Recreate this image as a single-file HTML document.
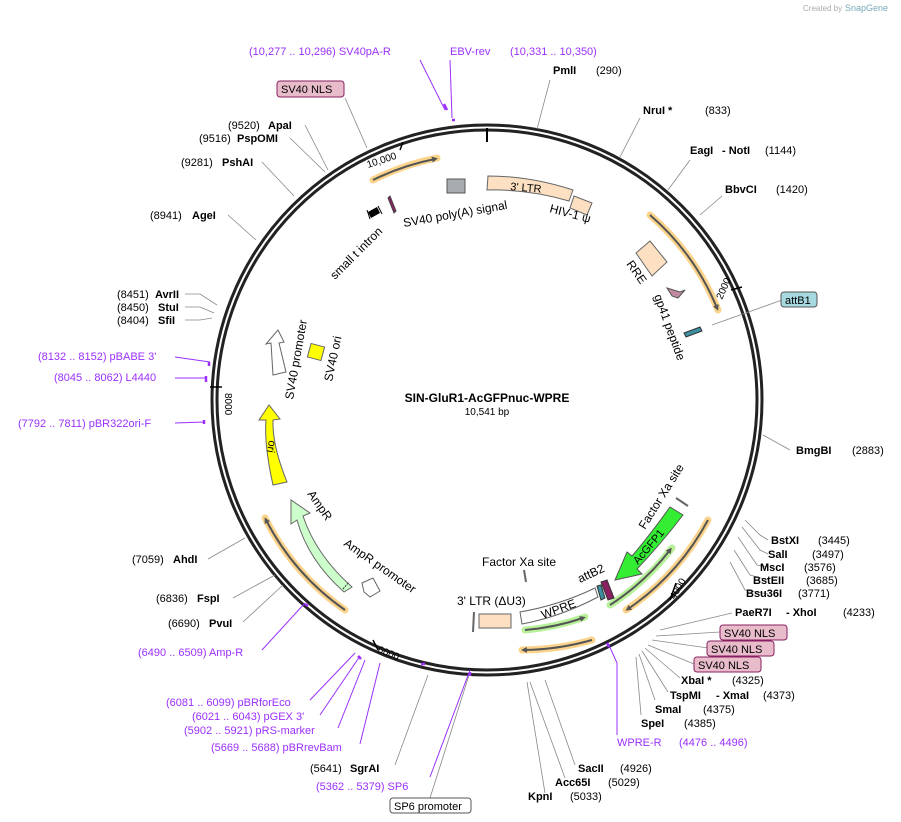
<!DOCTYPE html>
<html><head><meta charset="utf-8"><style>
body{margin:0;background:#fff}
svg{display:block;font-family:"Liberation Sans","DejaVu Sans",sans-serif}
.b{font-weight:bold;font-size:11px;fill:#000}
.n{font-size:11px;fill:#000}
.p{font-size:11px;fill:#9b30ff}
.l{stroke:#888;stroke-width:0.8;fill:none}
.lp{stroke:#9b30ff;stroke-width:1;fill:none}
.f{font-size:12px;fill:#000}
</style></head><body>
<svg width="901" height="822" viewBox="0 0 901 822">
<defs>
<marker id="ah" markerWidth="6" markerHeight="6" refX="3" refY="3" orient="auto" markerUnits="userSpaceOnUse"><path d="M0,0 L6,3 L0,6 z" fill="#555"/></marker>
</defs>
<text x="803" y="11" font-size="8" fill="#aaa">Created by</text><text x="845" y="11" font-size="9" fill="#7ab">SnapGene</text>

<circle cx="487" cy="400" r="275" fill="none" stroke="#222" stroke-width="3"/>
<circle cx="487" cy="400" r="270" fill="none" stroke="#222" stroke-width="3"/>
<line x1="487" y1="128" x2="487" y2="142" stroke="#000" stroke-width="2"/>
<line x1="222" y1="387" x2="210" y2="387" stroke="#000" stroke-width="1.5"/>
<text x="225" y="393" font-size="10" transform="rotate(90 225 393)">8000</text>
<line x1="731" y1="290" x2="742" y2="287" stroke="#000" stroke-width="1.5"/>
<text x="722" y="300" font-size="10" transform="rotate(-66 722 300)">2000</text>
<line x1="670" y1="600" x2="676" y2="583" stroke="#000" stroke-width="1.5"/>
<text x="675" y="600" font-size="10" transform="rotate(-60 675 600)">4000</text>
<line x1="373" y1="640" x2="378" y2="650" stroke="#000" stroke-width="1.5"/>
<text x="377" y="652" font-size="10" transform="rotate(22 377 652)">6000</text>
<line x1="400" y1="150" x2="403" y2="142" stroke="#000" stroke-width="1.5"/>
<text x="368" y="168" font-size="10" transform="rotate(-18 368 168)">10,000</text>

<text x="487" y="402" text-anchor="middle" font-weight="bold" font-size="12">SIN-GluR1-AcGFPnuc-WPRE</text>
<text x="487" y="415" text-anchor="middle" font-size="10">10,541 bp</text>

<g fill="none" stroke-linecap="round">
<path d="M373,180 A248,248 0 0 1 437,158" stroke="#fbd38a" stroke-width="7"/>
<path d="M650,215 A248,248 0 0 1 718,310" stroke="#fbd38a" stroke-width="7"/>
<path d="M708,520 A252,252 0 0 1 626,610" stroke="#fbd38a" stroke-width="7"/>
<path d="M592,640 A262,262 0 0 1 522,650" stroke="#fbd38a" stroke-width="7"/>
<path d="M265,518 A250,250 0 0 0 345,610" stroke="#fbd38a" stroke-width="7"/>
<path d="M672,548 A240,240 0 0 1 610,605" stroke="#b9f19a" stroke-width="7"/>
<path d="M525,630 A245,245 0 0 0 585,617" stroke="#b9f19a" stroke-width="7"/>
</g>
<g fill="none" stroke="#555" stroke-width="2">
<path d="M373,180 A248,248 0 0 1 435,159" marker-end="url(#ah)"/>
<path d="M650,215 A248,248 0 0 1 717,308" marker-end="url(#ah)"/>
<path d="M708,520 A252,252 0 0 1 628,609" marker-end="url(#ah)"/>
<path d="M592,640 A262,262 0 0 1 524,650" marker-end="url(#ah)"/>
<path d="M345,610 A250,250 0 0 1 266,520" marker-end="url(#ah)"/>
<path d="M610,605 A240,240 0 0 0 670,550" marker-end="url(#ah)"/>
<path d="M525,630 A245,245 0 0 0 583,618" marker-end="url(#ah)"/>
</g>

<path d="M488,176 Q530,176 573,190 L569,201 Q529,189 487,190 z" fill="#fde0c2" stroke="#666"/>
<text x="510" y="190" font-size="11" transform="rotate(5 510 190)">3' LTR</text>
<path d="M574,196 L592,203 L587,215 L570,208 z" fill="#fde0c2" stroke="#666"/>
<text x="549" y="212" class="f" transform="rotate(15 549 212)">HIV-1 ψ</text>
<path d="M636,253 L650,241 L667,262 L652,276 z" fill="#fde0c2" stroke="#666"/>
<text x="626" y="264" class="f" transform="rotate(55 626 264)">RRE</text>
<path d="M667,288 L680,292 L685,290 L678,298 L672,296 z" fill="#c08aa0" stroke="#555"/>
<text x="654" y="296" class="f" transform="rotate(70 654 296)">gp41 peptide</text>
<path d="M684,333 L700,327 L702,331 L686,337 z" fill="#3d8ea0" stroke="#333"/>
<rect x="447" y="179" width="18" height="14" fill="#a8acb0" stroke="#555"/>
<text x="404" y="227" class="f" transform="rotate(-10 404 227)">SV40 poly(A) signal</text>
<path d="M390,196 L396,211 L394,213 L388,198 z" fill="#8a2060" stroke="#444"/>
<path d="M368,212 L377,207 L380,213 L371,218 z" fill="#000"/>
<line x1="367" y1="210" x2="370" y2="219" stroke="#000"/><line x1="378" y1="206" x2="382" y2="214" stroke="#000"/>
<text x="335" y="280" class="f" transform="rotate(-45 335 280)">small t intron</text>

<path d="M286,372 L273,375 L271,343 L266,344 L278,330 L284,342 L279,343 z" fill="#fff" stroke="#666"/>
<text x="293" y="400" class="f" transform="rotate(-80 293 400)">SV40 promoter</text>
<rect x="309" y="345" width="14" height="14" fill="#ffff00" stroke="#666" transform="rotate(15 316 352)"/>
<text x="332" y="382" class="f" transform="rotate(-78 332 382)">SV40 ori</text>
<path d="M287,482 L273,485 Q264,445 266,420 L259,420 L269,405 L280,419 L273,420 Q272,445 287,482 z" fill="#ffff00" stroke="#666"/>
<text x="269" y="440" font-size="11" transform="rotate(100 269 440)">ori</text>
<path d="M352,587 L344,592 Q308,560 297,520 L291,524 L291,500 L310,513 L303,516 Q316,555 352,587 z" fill="#ccffcc" stroke="#666"/>
<text x="307" y="494" class="f" transform="rotate(55 307 494)">AmpR</text>
<line x1="343" y1="589" x2="349" y2="582" stroke="#333" stroke-dasharray="2,1"/>
<path d="M362,583 L373,578 L380,591 L370,597 L364,592 z" fill="#fff" stroke="#666"/>
<text x="343" y="545" class="f" transform="rotate(35 343 545)">AmpR promoter</text>

<path d="M683,515 L670,507 Q650,535 632,556 L627,552 L615,580 L642,574 L637,569 Q660,545 683,515 z" fill="#33ee33" stroke="#555"/>
<text x="638" y="565" font-size="11" transform="rotate(-50 638 565)">AcGFP1</text>
<line x1="676" y1="498" x2="688" y2="506" stroke="#666" stroke-width="2"/>
<text x="645" y="530" class="f" transform="rotate(-58 645 530)">Factor Xa site</text>
<path d="M601,582 L607,580 L614,598 L608,600 z" fill="#8a2060" stroke="#333"/>
<path d="M597,586 L601,585 L605,598 L601,600 z" fill="#3d8ea0" stroke="#333"/>
<text x="580" y="583" class="f" transform="rotate(-25 580 583)">attB2</text>
<text x="482" y="566" class="f">Factor Xa site</text>
<line x1="524" y1="570" x2="526" y2="582" stroke="#666" stroke-width="2"/>
<path d="M520,612 Q560,605 595,588 L598,597 Q560,617 522,624 z" fill="#fff" stroke="#666"/>
<text x="543" y="619" class="f" transform="rotate(-20 543 619)">WPRE</text>
<rect x="479" y="614" width="32" height="14" fill="#fde0c2" stroke="#666"/>
<line x1="474" y1="612" x2="473" y2="632" stroke="#666" stroke-width="2"/>
<text x="457" y="605" class="f">3' LTR (ΔU3)</text>

<g class="l">
<line x1="537" y1="129" x2="550" y2="80"/><line x1="620" y1="157" x2="640" y2="118"/>
<line x1="668" y1="190" x2="690" y2="160"/><line x1="700" y1="215" x2="722" y2="196"/>
<line x1="712" y1="325" x2="782" y2="300"/><line x1="763" y1="435" x2="790" y2="450"/>
<polyline points="745,520 760,535 768,540"/><polyline points="742,527 760,550 768,554"/>
<polyline points="738,537 757,565 768,567"/><polyline points="734,550 750,575 768,580"/>
<polyline points="730,562 745,590 768,594"/>
<line x1="660" y1="630" x2="732" y2="613"/><line x1="656" y1="636" x2="720" y2="632"/>
<line x1="652" y1="640" x2="708" y2="648"/><line x1="648" y1="645" x2="694" y2="664"/>
<line x1="645" y1="648" x2="680" y2="678"/><line x1="642" y1="651" x2="668" y2="692"/>
<line x1="639" y1="654" x2="655" y2="700"/><line x1="636" y1="657" x2="641" y2="715"/>
<line x1="545" y1="680" x2="575" y2="765"/><line x1="530" y1="682" x2="565" y2="778"/>
<line x1="527" y1="682" x2="545" y2="793"/><line x1="470" y1="672" x2="430" y2="798"/>
<line x1="428" y1="675" x2="395" y2="765"/>
<line x1="283" y1="585" x2="243" y2="622"/><line x1="275" y1="575" x2="233" y2="598"/>
<line x1="245" y1="538" x2="208" y2="559"/>
<polyline points="212,318 200,320 185,320"/><polyline points="214,313 200,307 185,307"/>
<polyline points="217,305 200,294 185,294"/>
<line x1="256" y1="240" x2="228" y2="215"/><line x1="294" y1="196" x2="262" y2="162"/>
<line x1="325" y1="172" x2="290" y2="138"/><line x1="328" y1="170" x2="305" y2="125"/>
<line x1="367" y1="148" x2="345" y2="98"/>
</g>
<g class="lp">
<polyline points="608,643 617,663 617,735"/>
<line x1="470" y1="670" x2="430" y2="777"/>
<line x1="380" y1="663" x2="360" y2="744"/><line x1="365" y1="660" x2="338" y2="728"/>
<line x1="360" y1="656" x2="320" y2="715"/><line x1="355" y1="653" x2="310" y2="700"/>
<line x1="305" y1="603" x2="262" y2="650"/>
<line x1="205" y1="422" x2="175" y2="423"/><line x1="205" y1="378" x2="175" y2="378"/>
<line x1="210" y1="362" x2="175" y2="357"/>
<line x1="445" y1="110" x2="420" y2="60"/><line x1="452" y1="118" x2="450" y2="60"/>
</g>
<g stroke="#9b30ff" stroke-width="2.5">
<line x1="444" y1="104" x2="447" y2="110"/><line x1="452" y1="120" x2="455" y2="120"/>
<line x1="206" y1="376" x2="206" y2="382"/><line x1="209" y1="362" x2="209" y2="366"/>
<line x1="204" y1="420" x2="204" y2="424"/><line x1="607" y1="643" x2="609" y2="647"/>
<line x1="421" y1="664" x2="425" y2="664"/><line x1="470" y1="672" x2="470" y2="676"/>
<line x1="358" y1="656" x2="361" y2="659"/><line x1="305" y1="604" x2="308" y2="606"/>
</g>

<text x="553" y="74" class="b">PmlI</text><text x="596" y="74" class="n">(290)</text>
<text x="643" y="114" class="b">NruI *</text><text x="705" y="114" class="n">(833)</text>
<text x="690" y="154" class="b">EagI</text><text x="722" y="154" class="b">- NotI</text><text x="765" y="154" class="n">(1144)</text>
<text x="725" y="193" class="b">BbvCI</text><text x="776" y="193" class="n">(1420)</text>
<rect x="781" y="292" width="36" height="15" rx="3" fill="#a8d8e0" stroke="#555"/><text x="785" y="304" class="n">attB1</text>
<text x="796" y="454" class="b">BmgBI</text><text x="852" y="454" class="n">(2883)</text>
<text x="771" y="544" class="b">BstXI</text><text x="818" y="544" class="n">(3445)</text>
<text x="768" y="558" class="b">SalI</text><text x="812" y="558" class="n">(3497)</text>
<text x="760" y="571" class="b">MscI</text><text x="804" y="571" class="n">(3576)</text>
<text x="753" y="584" class="b">BstEII</text><text x="806" y="584" class="n">(3685)</text>
<text x="746" y="597" class="b">Bsu36I</text><text x="798" y="597" class="n">(3771)</text>
<text x="735" y="616" class="b">PaeR7I</text><text x="786" y="616" class="b">- XhoI</text><text x="843" y="616" class="n">(4233)</text>
<rect x="720" y="625" width="67" height="15" rx="3" fill="#e8bccb" stroke="#8a2060"/><text x="724" y="637" class="n">SV40 NLS</text>
<rect x="707" y="641" width="67" height="15" rx="3" fill="#e8bccb" stroke="#8a2060"/><text x="711" y="653" class="n">SV40 NLS</text>
<rect x="694" y="657" width="67" height="15" rx="3" fill="#e8bccb" stroke="#8a2060"/><text x="698" y="669" class="n">SV40 NLS</text>
<text x="681" y="684" class="b">XbaI *</text><text x="732" y="684" class="n">(4325)</text>
<text x="670" y="699" class="b">TspMI</text><text x="716" y="699" class="b">- XmaI</text><text x="763" y="699" class="n">(4373)</text>
<text x="655" y="713" class="b">SmaI</text><text x="703" y="713" class="n">(4375)</text>
<text x="641" y="727" class="b">SpeI</text><text x="684" y="727" class="n">(4385)</text>
<text x="617" y="746" class="p">WPRE-R</text><text x="679" y="746" class="p">(4476 .. 4496)</text>
<text x="578" y="772" class="b">SacII</text><text x="620" y="772" class="n">(4926)</text>
<text x="555" y="786" class="b">Acc65I</text><text x="608" y="786" class="n">(5029)</text>
<text x="528" y="800" class="b">KpnI</text><text x="570" y="800" class="n">(5033)</text>

<text x="310" y="772" class="n">(5641)</text><text x="350" y="772" class="b">SgrAI</text>
<text x="316" y="790" class="p">(5362 .. 5379)  SP6</text>
<rect x="390" y="798" width="81" height="15" rx="3" fill="#fff" stroke="#555"/><text x="394" y="810" class="n">SP6 promoter</text>
<text x="211" y="751" class="p">(5669 .. 5688)  pBRrevBam</text>
<text x="184" y="734" class="p">(5902 .. 5921)  pRS-marker</text>
<text x="192" y="720" class="p">(6021 .. 6043)  pGEX 3'</text>
<text x="166" y="706" class="p">(6081 .. 6099)  pBRforEco</text>
<text x="138" y="656" class="p">(6490 .. 6509)  Amp-R</text>
<text x="168" y="627" class="n">(6690)</text><text x="209" y="627" class="b">PvuI</text>
<text x="156" y="602" class="n">(6836)</text><text x="197" y="602" class="b">FspI</text>
<text x="132" y="563" class="n">(7059)</text><text x="173" y="563" class="b">AhdI</text>
<text x="18" y="427" class="p">(7792 .. 7811)  pBR322ori-F</text>
<text x="54" y="381" class="p">(8045 .. 8062)  L4440</text>
<text x="38" y="360" class="p">(8132 .. 8152)  pBABE 3'</text>
<text x="117" y="298" class="n">(8451)</text><text x="155" y="298" class="b">AvrII</text>
<text x="117" y="311" class="n">(8450)</text><text x="158" y="311" class="b">StuI</text>
<text x="117" y="324" class="n">(8404)</text><text x="158" y="324" class="b">SfiI</text>
<text x="150" y="219" class="n">(8941)</text><text x="192" y="219" class="b">AgeI</text>
<text x="181" y="166" class="n">(9281)</text><text x="222" y="166" class="b">PshAI</text>
<text x="199" y="142" class="n">(9516)</text><text x="237" y="142" class="b">PspOMI</text>
<text x="228" y="129" class="n">(9520)</text><text x="268" y="129" class="b">ApaI</text>
<rect x="277" y="81" width="67" height="16" rx="3" fill="#e8bccb" stroke="#8a2060"/><text x="281" y="93" class="n">SV40 NLS</text>
<text x="249" y="55" class="p">(10,277 .. 10,296)  SV40pA-R</text>
<text x="450" y="55" class="p">EBV-rev</text>
<text x="510" y="55" class="p">(10,331 .. 10,350)</text>
</svg>
</body></html>
